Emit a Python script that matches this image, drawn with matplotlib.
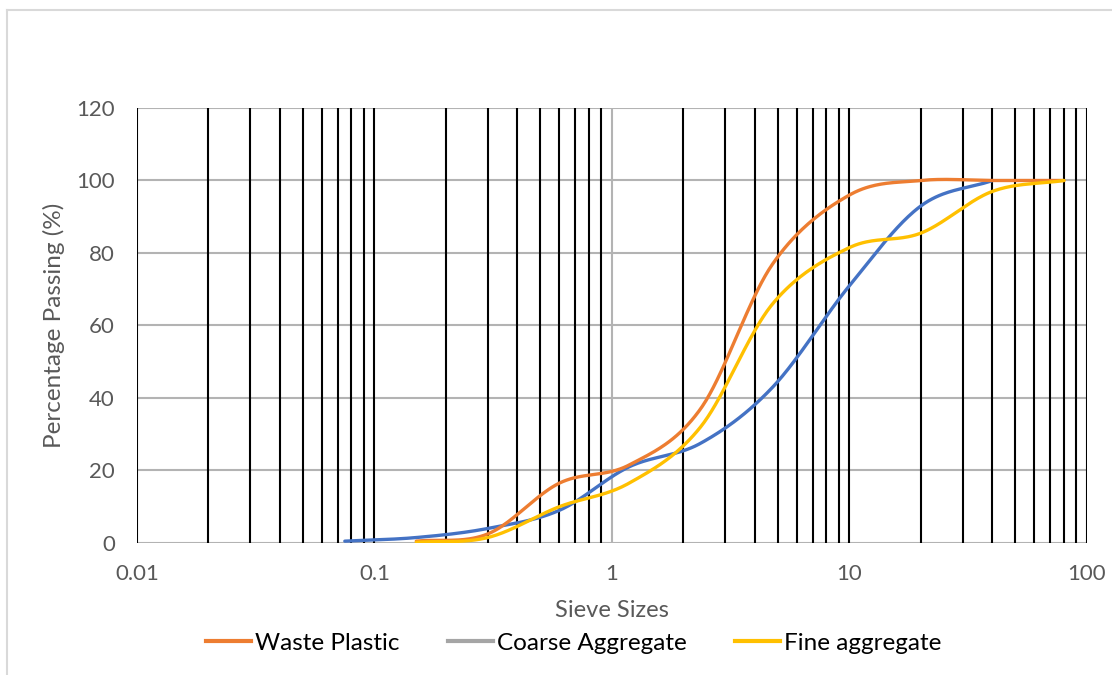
import numpy as np
import matplotlib.pyplot as plt
from matplotlib.lines import Line2D

plt.rcParams['font.family'] = ['Lato', 'DejaVu Sans']

# sieve sizes (mm) and percentage passing
plastic_size = [0.15, 0.3, 0.6, 1.18, 2.36, 4.75, 10, 20, 40, 80]
plastic_pass = [0.5, 2.5, 16.5, 21.5, 37, 77, 96, 100, 100, 100]

fine_size = [0.15, 0.3, 0.6, 1.18, 2.36, 4.75, 10, 20, 40, 80]
fine_pass = [0.2, 1.5, 10, 16.5, 32, 66, 81.5, 85.5, 97, 100]

blue_size = [0.075, 0.15, 0.3, 0.6, 1.18, 2.36, 4.75, 10, 20, 40]
blue_pass = [0.5, 1.5, 4, 9, 21, 27.5, 43, 71, 93, 100]


def smooth(xs, ys, n=40):
    # catmull-rom through the points in (log x, y), like a spreadsheet smoothed line
    lx = np.log10(xs)
    y = np.array(ys, dtype=float)
    px = np.concatenate([[2 * lx[0] - lx[1]], lx, [2 * lx[-1] - lx[-2]]])
    py = np.concatenate([[2 * y[0] - y[1]], y, [2 * y[-1] - y[-2]]])
    outx, outy = [], []
    for i in range(1, len(px) - 2):
        t = np.linspace(0, 1, n)
        c1x = px[i] + (px[i + 1] - px[i - 1]) / 6
        c1y = py[i] + (py[i + 1] - py[i - 1]) / 6
        c2x = px[i + 1] - (px[i + 2] - px[i]) / 6
        c2y = py[i + 1] - (py[i + 2] - py[i]) / 6
        bx = (1 - t)**3 * px[i] + 3 * (1 - t)**2 * t * c1x + 3 * (1 - t) * t**2 * c2x + t**3 * px[i + 1]
        by = (1 - t)**3 * py[i] + 3 * (1 - t)**2 * t * c1y + 3 * (1 - t) * t**2 * c2y + t**3 * py[i + 1]
        outx.extend(bx)
        outy.extend(by)
    return 10 ** np.array(outx), np.array(outy)


fig = plt.figure(figsize=(11.12, 6.75), dpi=100)
ax = fig.add_axes([0.1232, 0.1956, 0.8543, 0.6444])

# vertical grid: every 1..9 x decade
for e in range(-2, 2):
    for k in range(1, 10):
        v = k * 10.0**e
        if v == 1:
            ax.axvline(v, color='#b3b3b3', lw=1.5, zorder=1)
        else:
            ax.axvline(v, color='black', lw=1.5, zorder=1)
ax.axvline(100, color='black', lw=1.5, zorder=1)
for v in range(0, 121, 20):
    ax.axhline(v, color='#b3b3b3', lw=1.5, zorder=0.5)

lw = 2.4
bx, by = smooth(blue_size, blue_pass)
ax.plot(bx, by, color='#4472c4', lw=lw, zorder=3, solid_capstyle='round')
ox, oy = smooth(plastic_size, plastic_pass)
ax.plot(ox, oy, color='#ed7d31', lw=lw, zorder=4, solid_capstyle='round')
fx, fy = smooth(fine_size, fine_pass)
ax.plot(fx, fy, color='#ffc000', lw=lw, zorder=5, solid_capstyle='round')

ax.set_xscale('log')
ax.set_xlim(0.01, 100)
ax.set_ylim(0, 120)
ax.set_xticks([0.01, 0.1, 1, 10, 100])
ax.set_xticklabels(['0.01', '0.1', '1', '10', '100'])
ax.set_yticks(range(0, 121, 20))
ax.minorticks_off()
ax.tick_params(length=0, labelsize=16, colors='#595959')
ax.tick_params(axis='x', pad=15)
ax.tick_params(axis='y', pad=16)
for s in ax.spines.values():
    s.set_visible(False)

ax.set_xlabel('Sieve Sizes', fontsize=17, color='#595959', labelpad=12)
ax.set_ylabel('Percentage Passing (%)', fontsize=17.5, color='#595959', labelpad=8)

handles = [Line2D([], [], color='#ed7d31', lw=3),
           Line2D([], [], color='#a5a5a5', lw=3),
           Line2D([], [], color='#ffc000', lw=3)]
fig.legend(handles, ['Waste Plastic', 'Coarse Aggregate', 'Fine aggregate'],
           loc='center', bbox_to_anchor=(0.516, 0.047), ncol=3, frameon=False,
           fontsize=17.5, handlelength=1.85, handletextpad=0.15, columnspacing=2.0)

# chart frame
fig.add_artist(Line2D([7 / 1112, 1], [1 - 9.5 / 675, 1 - 9.5 / 675], color='#d9d9d9', lw=1.5))
fig.add_artist(Line2D([7 / 1112, 7 / 1112], [0, 1 - 9.5 / 675], color='#d9d9d9', lw=1.5))

fig.savefig('out.png', dpi=100)
